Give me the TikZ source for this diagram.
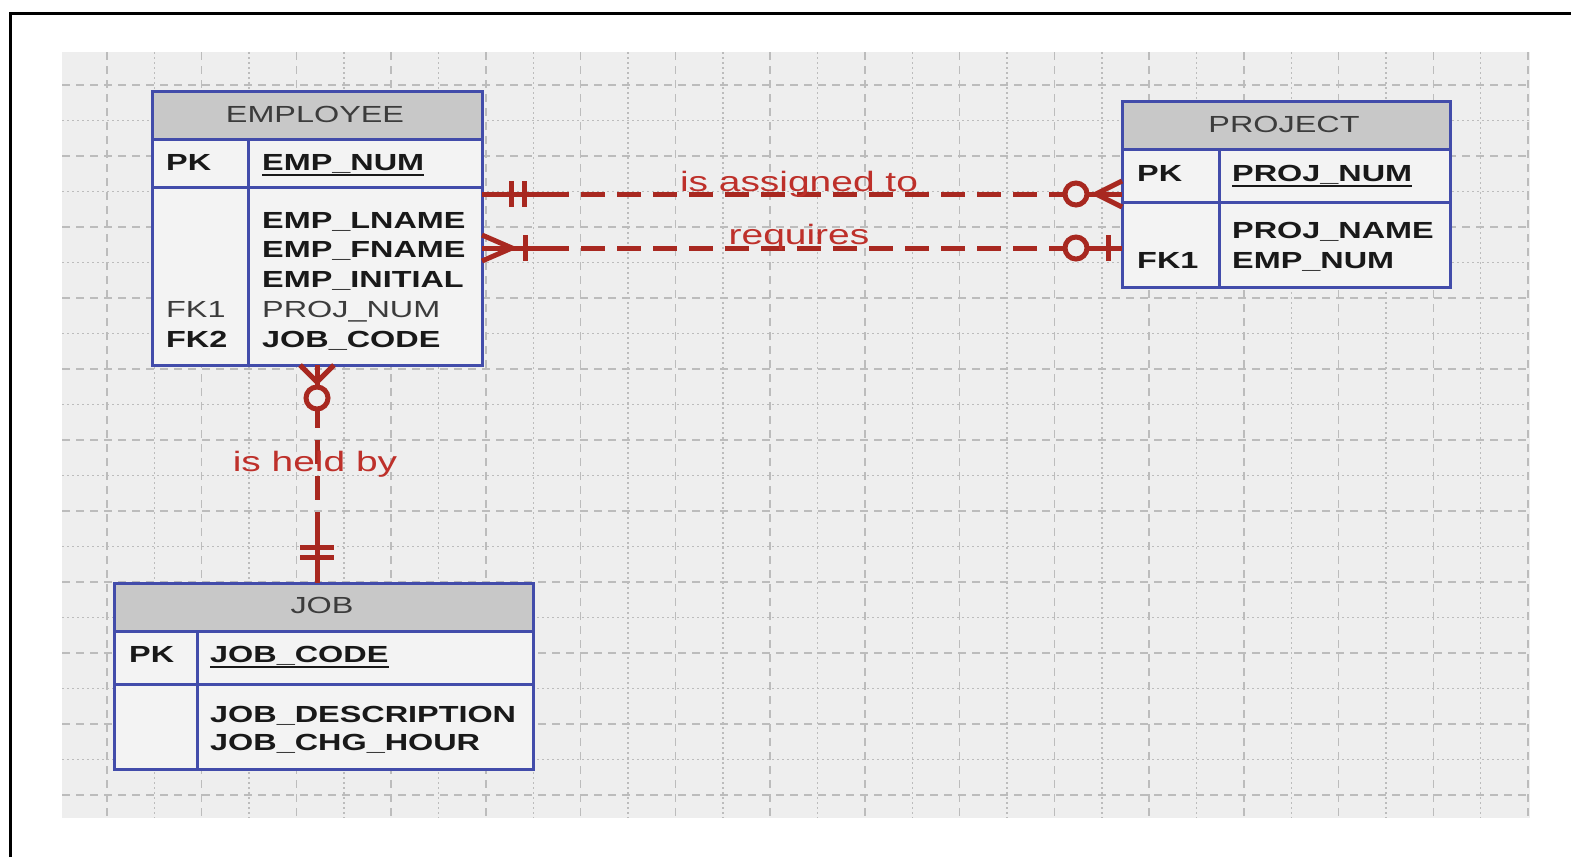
\documentclass[tikz,border=0pt]{standalone}
\usepackage{fontspec}
\setmainfont{Liberation Sans}[FakeStretch=1.39]
\usetikzlibrary{calc,fit}

\definecolor{gridbg}{RGB}{238,238,238}
\definecolor{gridln}{RGB}{188,188,188}
\definecolor{tblue}{RGB}{66,76,170}
\definecolor{thead}{RGB}{200,200,200}
\definecolor{tbody}{RGB}{243,243,243}
\definecolor{relred}{RGB}{168,40,32}
\definecolor{lblred}{RGB}{190,48,42}
\definecolor{ink}{RGB}{25,25,25}
\definecolor{inkgray}{RGB}{60,60,60}

\newcommand\tabfont{\fontsize{23.3pt}{28pt}\selectfont}
\newcommand\lblfont{\fontsize{28pt}{32pt}\selectfont}

\begin{document}
\begin{tikzpicture}[x=1pt,y=-1pt,
  gridA/.style={draw=gridln,line width=1.5pt,dash pattern=on 8pt off 6pt},
  gridB/.style={draw=gridln,line width=1.5pt,dash pattern=on 2pt off 3pt},
  tframe/.style={draw=tblue,line width=3pt,inner sep=0pt,outer sep=0pt},
  tline/.style={draw=tblue,line width=3pt},
  headtxt/.style={font=\tabfont,text=inkgray,inner sep=0pt,anchor=base},
  fld/.style={font=\tabfont\bfseries,text=ink,inner sep=0pt,anchor=base west},
  fldreg/.style={font=\tabfont,text=inkgray,inner sep=0pt,anchor=base west},
  uline/.style={draw=ink,line width=1.8pt},
  rel/.style={draw=relred,line width=5pt},
  reldash/.style={rel,dash pattern=on 24pt off 12pt},
  lbl/.style={font=\lblfont,text=lblred,inner sep=0pt,anchor=base}]

\useasboundingbox (0,0) rectangle (1571,857);
\fill[white] (0,0) rectangle (1571,857);

% frame lines along the top and left
\draw[black,line width=3pt] (10,857) -- (10,13) -- (1571,13);

% grid paper
\fill[gridbg] (62,52) rectangle (1530,818);
\foreach \k in {0,2,...,30} \draw[gridA] ({107+47.37*\k},52) -- ({107+47.37*\k},818);
\foreach \k in {1,3,...,29} \draw[gridB] ({107+47.37*\k},52) -- ({107+47.37*\k},818);
\foreach \k in {0,2,...,20} \draw[gridA] (62,{85+35.5*\k}) -- (1530,{85+35.5*\k});
\foreach \k in {1,3,...,19} \draw[gridB] (62,{85+35.5*\k}) -- (1530,{85+35.5*\k});

% ---------- EMPLOYEE ----------
\fill[tbody] (152,91) rectangle (482,365);
\fill[thead] (152,91) rectangle (482,139);
\draw[tline] (152,139) -- (482,139) (152,187) -- (482,187) (248,139) -- (248,365);
\node[tframe,fit={(152,91) (482,365)}] (emp) {};
\node[headtxt] (empH) at (315,122) {EMPLOYEE};
\node[fld] (empPK) at (166,170) {PK};
\node[fld] (empK) at (262,170) {EMP\_NUM};
\draw[uline] ([yshift=-5pt]empK.base west) -- ([yshift=-5pt]empK.base east);
\node[fld] (empA1) at (262,228) {EMP\_LNAME};
\node[fld] (empA2) at (262,257) {EMP\_FNAME};
\node[fld] (empA3) at (262,287) {EMP\_INITIAL};
\node[fldreg] (empA4) at (262,317) {PROJ\_NUM};
\node[fld] (empA5) at (262,347) {JOB\_CODE};
\node[fldreg] (empF1) at (166,317) {FK1};
\node[fld] (empF2) at (166,347) {FK2};

% ---------- PROJECT ----------
\fill[tbody] (1122,101) rectangle (1450,287);
\fill[thead] (1122,101) rectangle (1450,149);
\draw[tline] (1122,149) -- (1450,149) (1122,202) -- (1450,202) (1219,149) -- (1219,287);
\node[tframe,fit={(1122,101) (1450,287)}] (proj) {};
\node[headtxt] (projH) at (1284,132) {PROJECT};
\node[fld] (projPK) at (1137,181) {PK};
\node[fld] (projK) at (1232,181) {PROJ\_NUM};
\draw[uline] ([yshift=-5pt]projK.base west) -- ([yshift=-5pt]projK.base east);
\node[fld] (projA1) at (1232,238) {PROJ\_NAME};
\node[fld] (projA2) at (1232,268) {EMP\_NUM};
\node[fld] (projF1) at (1137,268) {FK1};

% ---------- JOB ----------
\fill[tbody] (114,583) rectangle (533,769);
\fill[thead] (114,583) rectangle (533,631);
\draw[tline] (114,631) -- (533,631) (114,684) -- (533,684) (197,631) -- (197,769);
\node[tframe,fit={(114,583) (533,769)}] (job) {};
\node[headtxt] (jobH) at (322,613) {JOB};
\node[fld] (jobPK) at (129,662) {PK};
\node[fld] (jobK) at (210,662) {JOB\_CODE};
\draw[uline] ([yshift=-5pt]jobK.base west) -- ([yshift=-5pt]jobK.base east);
\node[fld] (jobA1) at (210,722) {JOB\_DESCRIPTION};
\node[fld] (jobA2) at (210,750) {JOB\_CHG\_HOUR};

% ---------- relationships ----------
\coordinate (ya) at (0,194);
\coordinate (yb) at (0,248);
\coordinate (a1) at (emp.east |- ya);
\coordinate (a2) at (proj.west |- ya);
\coordinate (b1) at (emp.east |- yb);
\coordinate (b2) at (proj.west |- yb);
\coordinate (c1) at (emp.south);
\coordinate (c2) at (job.north -| emp.south);

% EMPLOYEE (one and only one) -- PROJECT (zero or many)
\draw[rel] (a1) -- ($(a1)+(63,0)$);
\draw[reldash] ($(a1)+(63,0)$) -- ($(a2)+(-56,0)$);
\draw[rel] ($(a1)+(29,-13)$) -- ($(a1)+(29,13)$);
\draw[rel] ($(a1)+(42,-13)$) -- ($(a1)+(42,13)$);
\draw[rel] ($(a2)+(-36,0)$) -- (a2);
\draw[rel,fill=gridbg] ($(a2)+(-46,0)$) circle (11);
\draw[rel] ($(a2)+(0,-13)$) -- ($(a2)+(-26,0)$) -- ($(a2)+(0,13)$);

% EMPLOYEE (one or many) -- PROJECT (zero or one)
\draw[rel] (b1) -- ($(b1)+(63,0)$);
\draw[reldash] ($(b1)+(63,0)$) -- ($(b2)+(-56,0)$);
\draw[rel] ($(b1)+(0,-13)$) -- ($(b1)+(30,0)$) -- ($(b1)+(0,13)$);
\draw[rel] ($(b1)+(43,-13)$) -- ($(b1)+(43,13)$);
\draw[rel] ($(b2)+(-36,0)$) -- (b2);
\draw[rel,fill=gridbg] ($(b2)+(-46,0)$) circle (11);
\draw[rel] ($(b2)+(-14,-13)$) -- ($(b2)+(-14,13)$);

% EMPLOYEE (zero or many) -- JOB (one and only one)
\draw[rel] (c1) -- ($(c1)+(0,21)$);
\draw[rel] ($(c1)+(-17,0)$) -- ($(c1)+(0,17)$) -- ($(c1)+(17,0)$);
\draw[rel,fill=gridbg] ($(c1)+(0,33)$) circle (11);
\draw[rel] ($(c1)+(0,45)$) -- ($(c1)+(0,63)$);
\draw[reldash] ($(c1)+(0,75)$) -- ($(c2)+(0,-50)$);
\draw[rel] ($(c2)+(0,-50)$) -- (c2);
\draw[rel] ($(c2)+(-17,-36)$) -- ($(c2)+(17,-36)$);
\draw[rel] ($(c2)+(-17,-26)$) -- ($(c2)+(17,-26)$);

% relationship names
\node[lbl] (la) at (799,191) {is assigned to};
\node[lbl] (lb) at (799,244) {requires};
\node[lbl] (lc) at (315,471) {is held by};

\end{tikzpicture}
\end{document}
